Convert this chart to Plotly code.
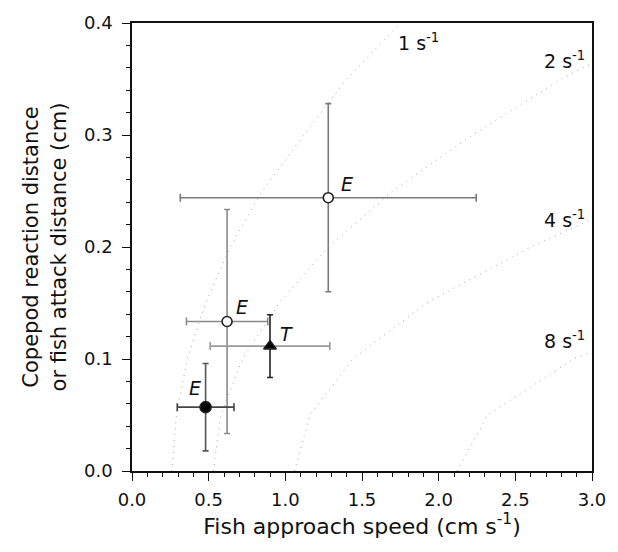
import plotly.graph_objects as go

# ---- data ----
labels = ["E", "E", "T", "E"]
speed = [1.28, 0.62, 0.90, 0.48]          # fish approach speed (cm s-1)
speed_err = [0.965, 0.265, 0.39, 0.185]
dist = [0.244, 0.1335, 0.1115, 0.057]      # distance (cm)
dist_err = [0.084, 0.10, 0.028, 0.039]
symbols = ["circle-open", "circle-open", "triangle-up", "circle"]
label_x = [1.40, 0.715, 1.005, 0.41]
label_y = [0.256, 0.146, 0.122, 0.074]

# iso-deformation-rate curves (dotted)
curve_y = [0.0, 0.05, 0.10, 0.15, 0.20, 0.25, 0.30, 0.35, 0.40]
curve_1 = [0.26, 0.29, 0.36, 0.48, 0.64, 0.85, 1.12, 1.40, 1.75]
curve_2 = [0.53, 0.58, 0.72, 0.96, 1.28, 1.70, 2.22, 2.80, 3.50]
curve_4 = [1.06, 1.16, 1.44, 1.92, 2.60, 3.40]
curve_8 = [2.12, 2.32, 2.88, 3.84]
rate_labels = ["1 s<sup>-1</sup>", "2 s<sup>-1</sup>", "4 s<sup>-1</sup>", "8 s<sup>-1</sup>"]
rate_label_x = [1.87, 2.82, 2.82, 2.82]
rate_label_y = [0.383, 0.367, 0.225, 0.117]

xticks = [0.0, 0.5, 1.0, 1.5, 2.0, 2.5, 3.0]
yticks = [0.0, 0.1, 0.2, 0.3, 0.4]

# ---- styles ----
FONT = "DejaVu Sans, Liberation Sans, Arial, sans-serif"
err_x_colors = ["#7a7a7a", "#8a8a8a", "#9a9a9a", "#444444"]
err_y_colors = ["#7a7a7a", "#8a8a8a", "#222222", "#555555"]
marker_fill = ["white", "white", "black", "black"]
marker_size = [10, 10, 11, 11]

fig = go.Figure()

for cx in [curve_1, curve_2, curve_4, curve_8]:
    fig.add_trace(go.Scatter(
        x=cx, y=curve_y[:len(cx)], mode="lines",
        line=dict(color="rgba(0,0,0,0.35)", width=1, dash="1px,5px"),
        hoverinfo="skip", showlegend=False))

for i in range(len(speed)):
    fig.add_trace(go.Scatter(
        x=[speed[i]], y=[dist[i]], mode="markers",
        marker=dict(symbol=symbols[i].replace("-open", ""), size=marker_size[i],
                    color=marker_fill[i],
                    line=dict(color="#222222", width=1.6)),
        error_x=dict(type="data", array=[speed_err[i]], color=err_x_colors[i],
                     thickness=1.6, width=4),
        error_y=dict(type="data", array=[dist_err[i]], color=err_y_colors[i],
                     thickness=1.6, width=3),
        showlegend=False))

for i in range(len(labels)):
    fig.add_annotation(x=label_x[i], y=label_y[i], text="<i>" + labels[i] + "</i>",
                       showarrow=False, font=dict(family=FONT, size=19, color="#111"))

for i in range(len(rate_labels)):
    fig.add_annotation(x=rate_label_x[i], y=rate_label_y[i], text=rate_labels[i],
                       showarrow=False, font=dict(family=FONT, size=19, color="#111"))

fig.update_layout(
    width=618, height=552,
    margin=dict(l=132, r=25, t=15, b=81),
    paper_bgcolor="white", plot_bgcolor="white",
    font=dict(family=FONT, size=18, color="#111"),
    xaxis=dict(
        range=[0, 3.0], tickvals=xticks, ticktext=[f"{v:.1f}" for v in xticks],
        ticks="outside", ticklen=8, tickwidth=1.2, tickcolor="#111",
        ticklabelstandoff=4,
        minor=dict(dtick=0.1, ticks="outside", ticklen=4, tickcolor="#111", tickwidth=1),
        showline=True, linecolor="#111", linewidth=1.5, mirror=True,
        showgrid=False, zeroline=False,
        title=dict(text="Fish approach speed (cm s<sup>-1</sup>)",
                   font=dict(family=FONT, size=22), standoff=8),
        tickfont=dict(family=FONT, size=18)),
    yaxis=dict(
        range=[0, 0.4], tickvals=yticks, ticktext=[f"{v:.1f}" for v in yticks],
        ticks="outside", ticklen=8, tickwidth=1.2, tickcolor="#111",
        ticklabelstandoff=6,
        minor=dict(dtick=0.02, ticks="outside", ticklen=4, tickcolor="#111", tickwidth=1),
        showline=True, linecolor="#111", linewidth=1.5, mirror=True,
        showgrid=False, zeroline=False,
        title=dict(text="Copepod reaction distance<br>or fish attack distance (cm)",
                   font=dict(family=FONT, size=21), standoff=12),
        tickfont=dict(family=FONT, size=18)),
)

fig.write_html("out.html")
